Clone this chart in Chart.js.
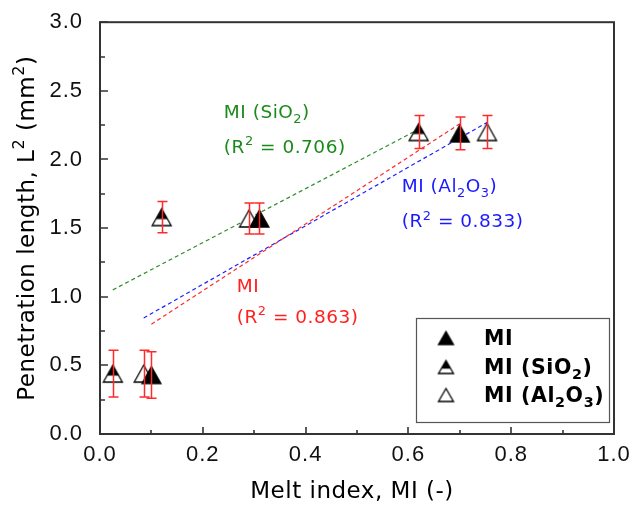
<!DOCTYPE html>
<html><head><meta charset="utf-8">
<script src="https://cdn.jsdelivr.net/npm/chart.js@4"></script>
<style>html,body{margin:0;padding:0;background:#fff}#wrap{width:631px;height:508px}</style>
</head><body><div id="wrap"><canvas id="c" width="631" height="508"></canvas></div>
<script>
// ---- data ----
const xMI = [0.10, 0.31, 0.70];
const yMI = [0.43, 1.57, 2.19];
const errMI = [0.17, 0.113, 0.12];
const xSiO2 = [0.025, 0.12, 0.62];
const ySiO2 = [0.44, 1.58, 2.20];
const errSiO2 = [0.17, 0.113, 0.12];
const xAl2O3 = [0.085, 0.29, 0.753];
const yAl2O3 = [0.44, 1.57, 2.20];
const errAl2O3 = [0.17, 0.113, 0.12];
// linear fits (end points as drawn)
const fitMIx = [0.10, 0.70], fitMIy = [0.80, 2.26];
const fitSiO2x = [0.025, 0.62], fitSiO2y = [1.05, 2.22];
const fitAl2O3x = [0.085, 0.753], fitAl2O3y = [0.845, 2.27];
// ticks
const xTicks = [0, 0.2, 0.4, 0.6, 0.8, 1.0];
const xMinor = [0.1, 0.3, 0.5, 0.7, 0.9];
const yTicks = [0, 0.5, 1.0, 1.5, 2.0, 2.5, 3.0];
const yMinor = [0.25, 0.75, 1.25, 1.75, 2.25, 2.75];
// labels
const seriesNames = ['MI', 'MI (SiO_2)', 'MI (Al_2O_3)'];
const xTitle = 'Melt index, MI (-)';
const yTitle = 'Penetration length, L^2 (mm^2)';
const notes = [
  {lines: ['MI (SiO_2)', '(R^2 = 0.706)'], x: 0.241, y: [2.30, 2.05], color: '#1a8a1a'},
  {lines: ['MI (Al_2O_3)', '(R^2 = 0.833)'], x: 0.587, y: [1.76, 1.505], color: '#1a1aff'},
  {lines: ['MI', '(R^2 = 0.863)'], x: 0.266, y: [1.033, 0.808], color: '#ff2020'}
];

const RED = '#ff2a2a', BLUE = '#2020ff', GREEN = '#2a8f2a';

function makeMarker(kind, w, h) {
  const c = document.createElement('canvas');
  c.width = w + 4; c.height = h + 4;
  const g = c.getContext('2d');
  const x0 = 2, y0 = 2;
  const path = () => { g.beginPath(); g.moveTo(x0 + w / 2, y0); g.lineTo(x0 + w, y0 + h); g.lineTo(x0, y0 + h); g.closePath(); };
  const f = 0.58, yy = y0 + h * f, dx = (w / 2) * f;
  if (kind === 'filled') { path(); g.fillStyle = '#000'; g.fill(); }
  else { path(); g.fillStyle = '#fff'; g.fill(); }
  if (kind === 'half') {
    g.beginPath(); g.moveTo(x0 + w / 2, y0); g.lineTo(x0 + w / 2 + dx, yy); g.lineTo(x0 + w / 2 - dx, yy); g.closePath();
    g.fillStyle = '#000'; g.fill();
  }
  path(); g.strokeStyle = '#000'; g.lineWidth = 1.3; g.stroke();
  if (kind === 'half') {
    g.beginPath(); g.moveTo(x0 + w / 2 - dx, yy); g.lineTo(x0 + w / 2 + dx, yy); g.stroke();
  }
  return c;
}
const mFilled = makeMarker('filled', 19, 17);
const mHalf = makeMarker('half', 19, 17);
const mHollow = makeMarker('hollow', 19, 17);
const lFilled = makeMarker('filled', 15, 13);
const lHalf = makeMarker('half', 15, 13);
const lHollow = makeMarker('hollow', 15, 13);

function pts(xs, ys) { return xs.map((x, i) => ({x: x, y: ys[i]})); }

function splitRich(str) {
  const parts = [];
  const re = /([_^])(\d)/g; let last = 0, m;
  while ((m = re.exec(str))) {
    if (m.index > last) parts.push({t: str.slice(last, m.index)});
    parts.push({t: m[2], sub: m[1] === '_', sup: m[1] === '^'});
    last = m.index + 2;
  }
  if (last < str.length) parts.push({t: str.slice(last)});
  return parts;
}
function drawRich(g, str, x, y, size, weight, color, spacing, measureOnly) {
  const family = '"DejaVu Sans"';
  g.letterSpacing = (spacing || 0) + 'px';
  g.fillStyle = color || '#000'; g.textBaseline = 'alphabetic'; g.textAlign = 'left';
  let cx = x;
  for (const p of splitRich(str)) {
    let fs = size, dy = 0;
    if (p.sub) { fs = size * 0.7; dy = size * 0.25; }
    if (p.sup) { fs = size * 0.7; dy = -size * 0.42; }
    g.font = weight + ' ' + fs + 'px ' + family;
    if (!measureOnly) g.fillText(p.t, cx, y + dy);
    cx += g.measureText(p.t).width;
  }
  return cx - x;
}

const decor = {
  id: 'decor',
  beforeDraw(chart) {
    chart.ctx.letterSpacing = '1px';
  },
  afterDatasetsDraw(chart) {
    const g = chart.ctx, xs = chart.scales.x, ys = chart.scales.y;
    g.save();
    g.strokeStyle = RED; g.lineWidth = 1.5;
    const sets = [[xMI, yMI, errMI], [xSiO2, ySiO2, errSiO2], [xAl2O3, yAl2O3, errAl2O3]];
    for (const [X, Y, E] of sets) {
      X.forEach((xv, i) => {
        const px = Math.round(xs.getPixelForValue(xv)) + 0.5;
        const pt = ys.getPixelForValue(Y[i] + E[i]);
        const pb = ys.getPixelForValue(Y[i] - E[i]);
        g.beginPath();
        g.moveTo(px, pt); g.lineTo(px, pb);
        g.moveTo(px - 5, pt); g.lineTo(px + 5, pt);
        g.moveTo(px - 5, pb); g.lineTo(px + 5, pb);
        g.stroke();
      });
    }
    g.restore();
  },
  afterDraw(chart) {
    const g = chart.ctx, xs = chart.scales.x, ys = chart.scales.y, a = chart.chartArea;
    g.save();
    // frame
    g.strokeStyle = '#333'; g.lineWidth = 2;
    g.strokeRect(a.left, a.top, a.right - a.left, a.bottom - a.top);
    // ticks (inward, bottom & left only)
    g.lineWidth = 1.6;
    g.beginPath();
    xTicks.forEach(v => { const p = Math.round(xs.getPixelForValue(v)); g.moveTo(p, a.bottom); g.lineTo(p, a.bottom - 7); });
    xMinor.forEach(v => { const p = Math.round(xs.getPixelForValue(v)); g.moveTo(p, a.bottom); g.lineTo(p, a.bottom - 4); });
    yTicks.forEach(v => { const p = Math.round(ys.getPixelForValue(v)); g.moveTo(a.left, p); g.lineTo(a.left + 8, p); });
    yMinor.forEach(v => { const p = Math.round(ys.getPixelForValue(v)); g.moveTo(a.left, p); g.lineTo(a.left + 5, p); });
    g.stroke();
    // annotations
    notes.forEach(n => {
      n.lines.forEach((s, i) => {
        drawRich(g, s, xs.getPixelForValue(n.x), ys.getPixelForValue(n.y[i]), 18.5, 'normal', n.color, 0.5);
      });
    });
    // legend
    const L = {x: 416, y: 318, w: 193, h: 104};
    g.fillStyle = '#fff'; g.fillRect(L.x, L.y, L.w, L.h);
    g.strokeStyle = '#555'; g.lineWidth = 1.2; g.strokeRect(L.x + 0.5, L.y + 0.5, L.w, L.h);
    const imgs = [lFilled, lHalf, lHollow];
    const rows = [338, 367, 395];
    seriesNames.forEach((s, i) => {
      g.drawImage(imgs[i], 446 - imgs[i].width / 2, rows[i] - imgs[i].height / 2);
      drawRich(g, s, 484, rows[i] + 6.5, 20.5, 'bold', '#000', 0.6);
    });
    // axis titles
    const tw = drawRich(g, xTitle, 0, 0, 23, 'normal', '#000', 0.5, true);
    drawRich(g, xTitle, (a.left + a.right) / 2 - tw / 2 - 5, 498, 23, 'normal', '#000', 0.5);
    g.save();
    g.translate(34, (a.top + a.bottom) / 2);
    g.rotate(-Math.PI / 2);
    const yw = drawRich(g, yTitle, 0, 0, 23, 'normal', '#000', 0.5, true);
    drawRich(g, yTitle, -yw / 2, 0, 23, 'normal', '#000', 0.5);
    g.restore();
    g.restore();
  }
};

new Chart(document.getElementById('c').getContext('2d'), {
  type: 'scatter',
  data: {
    datasets: [
      {label: 'MI', data: pts(xMI, yMI), pointStyle: mFilled, pointRadius: 10},
      {label: 'MI (SiO2)', data: pts(xSiO2, ySiO2), pointStyle: mHalf, pointRadius: 10},
      {label: 'MI (Al2O3)', data: pts(xAl2O3, yAl2O3), pointStyle: mHollow, pointRadius: 10},
      {type: 'line', label: 'fit MI', data: pts(fitMIx, fitMIy), borderColor: RED, borderWidth: 1.2, borderDash: [4, 3], pointRadius: 0, fill: false, tension: 0},
      {type: 'line', label: 'fit SiO2', data: pts(fitSiO2x, fitSiO2y), borderColor: GREEN, borderWidth: 1.2, borderDash: [4, 3], pointRadius: 0, fill: false, tension: 0},
      {type: 'line', label: 'fit Al2O3', data: pts(fitAl2O3x, fitAl2O3y), borderColor: BLUE, borderWidth: 1.2, borderDash: [4, 3], pointRadius: 0, fill: false, tension: 0}
    ]
  },
  options: {
    responsive: false, animation: false, devicePixelRatio: 1,
    layout: {padding: {left: 0, right: 17, top: 21, bottom: 0}},
    plugins: {legend: {display: false}, tooltip: {enabled: false}},
    scales: {
      x: {
        type: 'linear', min: 0, max: 1,
        afterFit(s) { s.height = 74; },
        afterBuildTicks(s) { s.ticks = xTicks.map(v => ({value: v})); },
        ticks: {callback: v => Number(v).toFixed(1), font: {family: 'Liberation Sans', size: 22}, color: '#111', padding: 0, maxRotation: 0, autoSkip: false},
        grid: {display: false}, border: {display: false}
      },
      y: {
        type: 'linear', min: 0, max: 3,
        afterFit(s) { s.width = 100; },
        afterBuildTicks(s) { s.ticks = yTicks.map(v => ({value: v})); },
        ticks: {callback: v => Number(v).toFixed(1), font: {family: 'Liberation Sans', size: 22}, color: '#111', padding: 9, autoSkip: false},
        grid: {display: false}, border: {display: false}
      }
    }
  },
  plugins: [decor]
});
</script>
</body></html>
